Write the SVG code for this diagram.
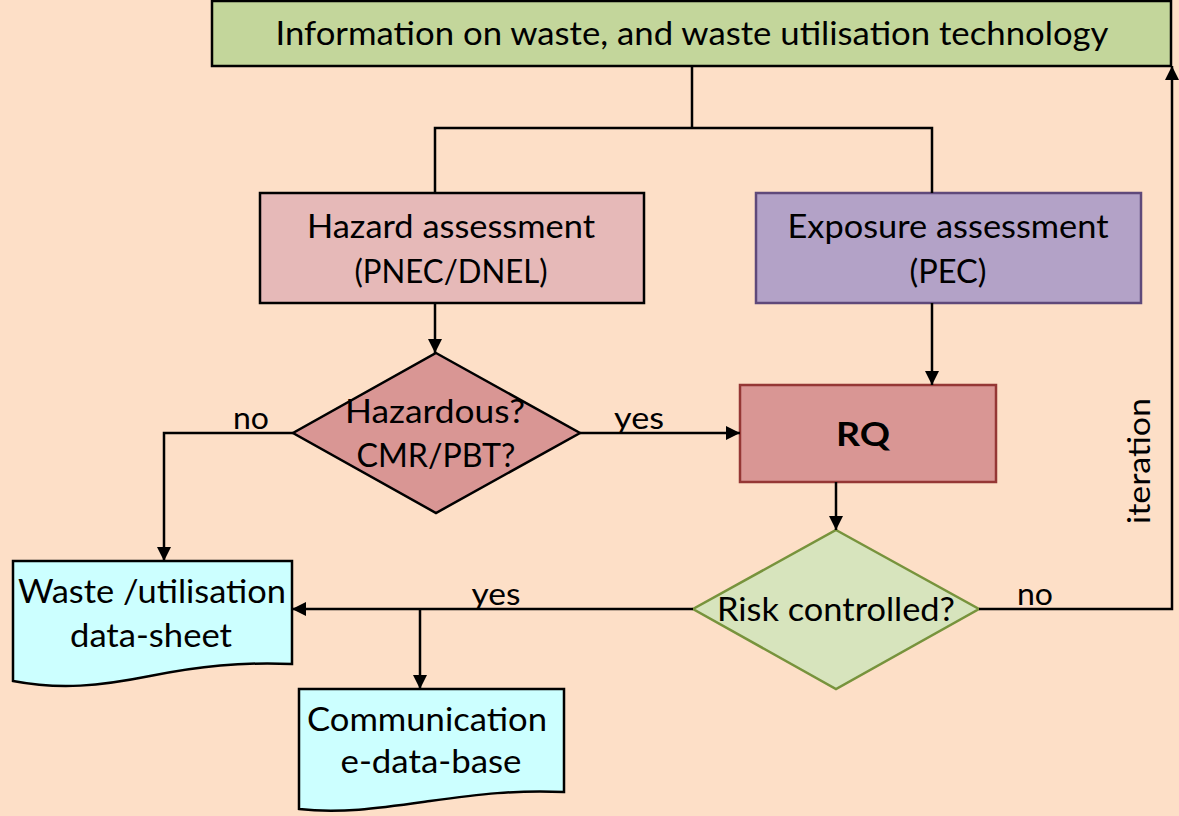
<svg xmlns="http://www.w3.org/2000/svg" width="1179" height="816" viewBox="0 0 1179 816">
<defs>
<marker id="arr" markerUnits="userSpaceOnUse" markerWidth="14" markerHeight="14" viewBox="0 0 14 14" refX="14" refY="7" orient="auto">
<path d="M0,0 L14,7 L0,14 Z" fill="#000"/>
</marker>
<style>
text{font-family:Lato,"Open Sans","Liberation Sans",sans-serif;font-size:32px;fill:#000;text-anchor:middle}
.lbl{font-size:30px}
.con{fill:none;stroke:#000;stroke-width:2.5}
.blk{stroke:#000;stroke-width:2.5}
</style>
</defs>
<rect x="0" y="0" width="1179" height="816" fill="#FDDFC7"/>

<g id="info">
<rect class="blk" x="212" y="1" width="959" height="65" fill="#C3D69B"/>
<text x="692" y="45" textLength="833" lengthAdjust="spacingAndGlyphs">Information on waste, and waste utilisation technology</text>
</g>

<g id="hazard">
<rect class="blk" x="260" y="193" width="384" height="110" fill="#E6B9B8"/>
<text x="451" y="238" textLength="288" lengthAdjust="spacingAndGlyphs">Hazard assessment</text>
<text x="451" y="283" textLength="193" lengthAdjust="spacingAndGlyphs">(PNEC/DNEL)</text>
</g>

<g id="exposure">
<rect x="756" y="193" width="385" height="110" fill="#B3A2C7" stroke="#5F497A" stroke-width="2.5"/>
<text x="948" y="238" textLength="321" lengthAdjust="spacingAndGlyphs">Exposure assessment</text>
<text x="948" y="283" textLength="77" lengthAdjust="spacingAndGlyphs">(PEC)</text>
</g>

<g id="hazardous">
<polygon class="blk" points="436,353 580,433 436,513 293,433" fill="#D99694"/>
<text x="435" y="423" textLength="180" lengthAdjust="spacingAndGlyphs">Hazardous?</text>
<text x="436" y="467" textLength="159" lengthAdjust="spacingAndGlyphs">CMR/PBT?</text>
</g>

<g id="rq">
<rect x="740" y="385" width="256" height="97" fill="#D99694" stroke="#953735" stroke-width="2.5"/>
<text x="863" y="446" font-weight="bold" textLength="54" lengthAdjust="spacingAndGlyphs">RQ</text>
</g>

<g id="risk">
<polygon points="836,530 979,609 836,689 693,609" fill="#D7E4BD" stroke="#77933C" stroke-width="2.5"/>
<text x="836" y="621" textLength="238" lengthAdjust="spacingAndGlyphs">Risk controlled?</text>
</g>

<g id="datasheet">
<path class="blk" d="M13,561 H292 V664 C240,662 200,666 150,676 C100,686 60,690 13,681 Z" fill="#CCFFFF"/>
<text x="152" y="603" textLength="268" lengthAdjust="spacingAndGlyphs">Waste /utilisation</text>
<text x="151" y="647" textLength="162" lengthAdjust="spacingAndGlyphs">data-sheet</text>
</g>

<g id="database">
<path class="blk" d="M299,689 H564 V792 C515,790 480,794 430,801 C380,808 340,814 299,809 Z" fill="#CCFFFF"/>
<text x="427" y="731" textLength="240" lengthAdjust="spacingAndGlyphs">Communication</text>
<text x="431" y="773" textLength="181" lengthAdjust="spacingAndGlyphs">e-data-base</text>
</g>

<g id="connectors">
<polyline class="con" points="692,66 692,128"/>
<polyline class="con" points="435,193 435,128 932,128 932,193"/>
<line class="con" x1="435" y1="303" x2="435" y2="353" marker-end="url(#arr)"/>
<polyline class="con" points="293,433 164,433 164,561" marker-end="url(#arr)"/>
<line class="con" x1="580" y1="433" x2="740" y2="433" marker-end="url(#arr)"/>
<line class="con" x1="932" y1="303" x2="932" y2="385" marker-end="url(#arr)"/>
<line class="con" x1="836" y1="482" x2="836" y2="530" marker-end="url(#arr)"/>
<polyline class="con" points="979,609 1172,609 1172,66" marker-end="url(#arr)"/>
<line class="con" x1="693" y1="609" x2="292" y2="609" marker-end="url(#arr)"/>
<line class="con" x1="420" y1="609" x2="420" y2="689" marker-end="url(#arr)"/>
<text class="lbl" x="251" y="429" textLength="36" lengthAdjust="spacingAndGlyphs">no</text>
<text class="lbl" x="639" y="429" textLength="50" lengthAdjust="spacingAndGlyphs">yes</text>
<text class="lbl" x="496" y="605" textLength="49" lengthAdjust="spacingAndGlyphs">yes</text>
<text class="lbl" x="1035" y="605" textLength="36" lengthAdjust="spacingAndGlyphs">no</text>
<text class="lbl" x="0" y="0" transform="translate(1150,461) rotate(-90)" textLength="126" lengthAdjust="spacingAndGlyphs">iteration</text>
</g>
</svg>
